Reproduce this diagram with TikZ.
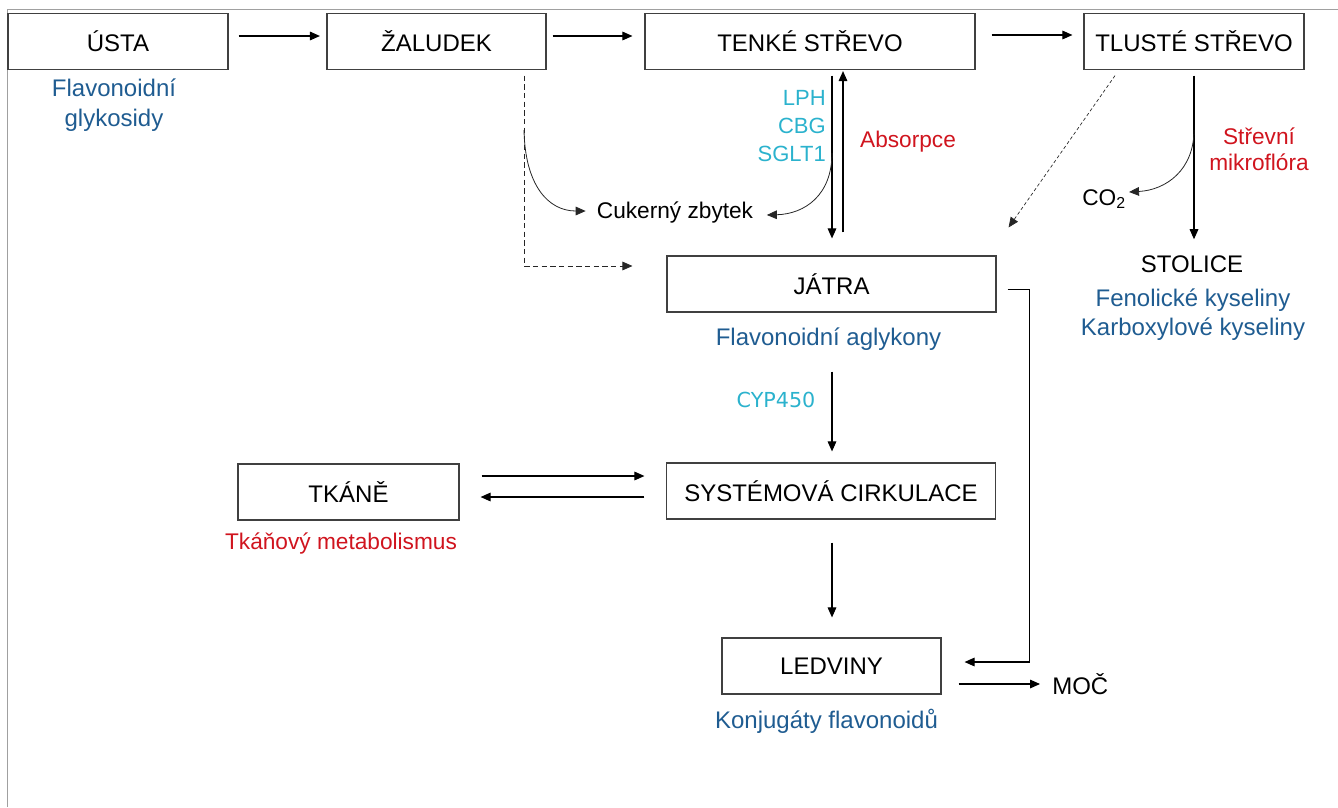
\documentclass[tikz,border=0pt]{standalone}
\usepackage{fontspec}
\setmainfont{Liberation Sans}
\newfontfamily\dejavu{DejaVu Sans}
\usetikzlibrary{arrows.meta}
\definecolor{blueT}{RGB}{31,92,145}
\definecolor{cyanT}{RGB}{43,178,205}
\definecolor{redT}{RGB}{208,20,30}
\definecolor{frameC}{RGB}{160,160,160}
\begin{document}
\begin{tikzpicture}[x=0.75pt,y=-0.75pt,
  box/.style={draw=black!75, line width=0.9pt, minimum height=42pt, inner sep=0pt,
    font=\fontsize{18}{21}\selectfont},
  arr/.style={-{Triangle[length=7.5pt,width=6.5pt]}, line width=0.8pt},
  curv/.style={-{Triangle[length=7.5pt,width=6.5pt]}, line width=0.6pt, black!85},
  dsh/.style={arr, line width=0.6pt, black!85, dash pattern=on 4pt off 2.5pt},
  dshf/.style={arr, line width=0.5pt, black!85, dash pattern=on 2.5pt off 1.8pt},
  bluelbl/.style={text=blueT, inner sep=0pt, font=\fontsize{18}{22.5}\selectfont, align=center},
  redlbl/.style={text=redT, inner sep=0pt, font=\fontsize{17}{19.5}\selectfont, align=center},
  cyanlbl/.style={text=cyanT, inner sep=0pt, font=\fontsize{16.5}{21}\selectfont},
  plain/.style={inner sep=0pt, font=\fontsize{17}{20}\selectfont}
]
\useasboundingbox (0,0) rectangle (1338,807);
% frame
\draw[frameC, line width=1.1pt] (7.5,807) -- (7.5,9.5) -- (1338,9.5);

% boxes
\node[box, minimum width=165pt] (usta) at (118,41.5) {ÚSTA};
\node[box, minimum width=164.25pt] (zal) at (436.5,41.5) {ŽALUDEK};
\node[box, minimum width=247.5pt] (tenke) at (810,41.5) {TENKÉ STŘEVO};
\node[box, minimum width=165pt] (tlus) at (1194,41.5) {TLUSTÉ STŘEVO};
\node[box, minimum width=246.75pt] (jatra) at (831.5,284) {JÁTRA};
\node[box, minimum width=246.75pt] (sc) at (831,491) {SYSTÉMOVÁ CIRKULACE};
\node[box, minimum width=165.75pt] (tk) at (348.5,492) {TKÁNĚ};
\node[box, minimum width=164.25pt] (ledv) at (831.5,666) {LEDVINY};

% labels
\node[bluelbl] (glyk) at (114,105) {Flavonoidní\\glykosidy};
\node[plain] (cuk) at (675,213) {Cukerný zbytek};
\node[cyanlbl, align=right, anchor=east] (enz) at (826,126) {LPH\\CBG\\SGLT1};
\node[redlbl] (abs) at (908,142) {Absorpce};
\node[redlbl] (mikro) at (1259,149.5) {Střevní\\mikroflóra};
\node[plain, anchor=west] (co2) at (1082,199) {CO\textsubscript{2}};
\node[inner sep=0pt, font=\fontsize{18}{21}\selectfont] (stol) at (1192,264) {STOLICE};
\node[bluelbl, font=\fontsize{18}{21.75}\selectfont] (kys) at (1193,314.5) {Fenolické kyseliny\\Karboxylové kyseliny};
\node[bluelbl] (aglyk) at (828.5,339) {Flavonoidní aglykony};
\node[text=cyanT, inner sep=0pt, font=\dejavu\fontsize{15.5}{18}\selectfont] (cyp) at (776,400) {CYP450};
\node[redlbl] (tkmet) at (341,543) {Tkáňový metabolismus};
\node[bluelbl] (konj) at (826.5,721) {Konjugáty flavonoidů};
\node[inner sep=0pt, anchor=west, font=\fontsize{18}{21}\selectfont] (moc) at (1052,684) {MOČ};

% top row arrows
\draw[arr] ([shift={(10,-5.5)}]usta.east) -- ([shift={(-6.5,-5.5)}]zal.west);
\draw[arr] ([shift={(6,-5.5)}]zal.east) -- ([shift={(-12,-5.5)}]tenke.west);
\draw[arr] ([shift={(16,-6.5)}]tenke.east) -- ([shift={(-11,-6.5)}]tlus.west);

% stomach dashed path
\draw[dsh] ([shift={(87.5,5.5)}]zal.south) |- ([shift={(-34,-18)}]jatra.west);
\coordinate (zc) at (524,130);
\draw[curv] (zc) .. controls (525,185) and (548,211) .. ([shift={(-11,-2)}]cuk.west);

% small intestine
\draw[arr] ([shift={(22,5.5)}]tenke.south) -- ([shift={(0.5,-17)}]jatra.north);
\draw[arr] ([shift={(11.5,-23)}]jatra.north) -- ([shift={(33,1)}]tenke.south);
\coordinate (tc) at (832,153);
\draw[curv] (tc) .. controls (832,195) and (805,214) .. ([shift={(13.5,2)}]cuk.east);

% large intestine
\draw[dshf] ([shift={(-79,5.5)}]tlus.south) -- ([shift={(12,-28)}]jatra.north east);
\draw[arr] ([shift={(0,5.5)}]tlus.south) -- ([shift={(2,-16)}]stol.north);
\coordinate (lc) at (1194,130);
\draw[curv] (lc) .. controls (1194,170) and (1166,190) .. ([shift={(3,-7)}]co2.east);

% liver and circulation
\draw[arr] ([shift={(0.5,59)}]jatra.south) -- ([shift={(1,-11)}]sc.north);
\draw[arr] ([shift={(22,-16)}]tk.east) -- ([shift={(-21.5,-15)}]sc.west);
\draw[arr] ([shift={(-21.5,6)}]sc.west) -- ([shift={(21,5)}]tk.east);
\draw[arr] ([shift={(1,23)}]sc.south) -- ([shift={(0.5,-20)}]ledv.north);
\draw[arr] ([shift={(11,5.5)}]jatra.east) -| ([shift={(88,-4)}]ledv.east) -- ([shift={(23,-4)}]ledv.east);
\draw[arr] ([shift={(17,18)}]ledv.east) -- ([shift={(-12,0)}]moc.west);
\end{tikzpicture}
\end{document}
